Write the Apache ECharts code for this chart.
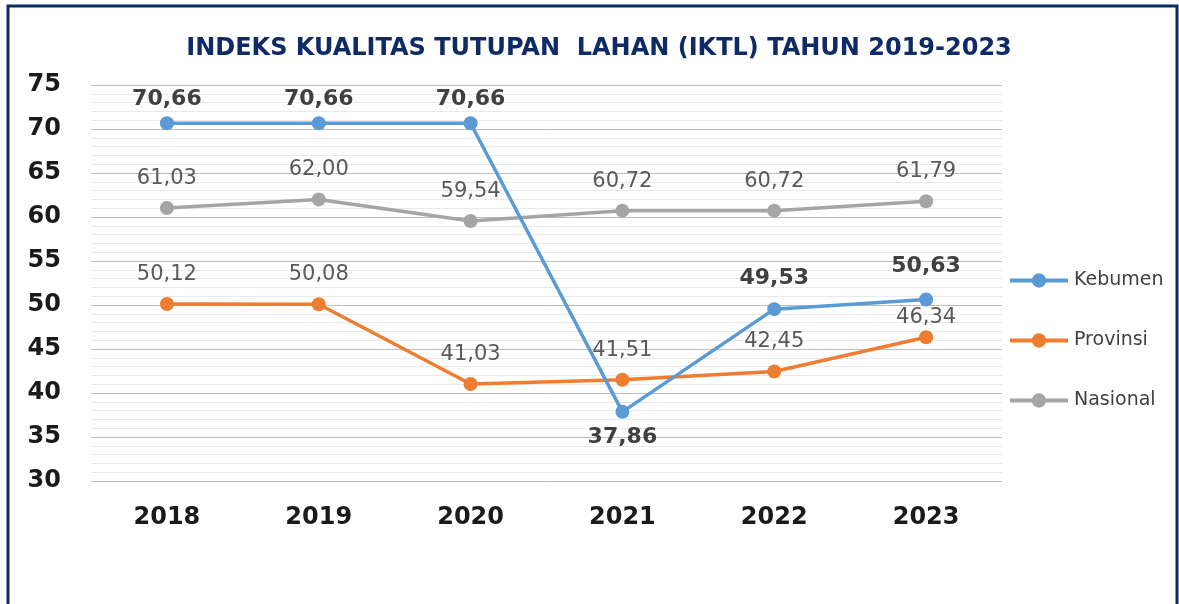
<!DOCTYPE html>
<html>
<head>
<meta charset="utf-8">
<script src="https://cdn.jsdelivr.net/npm/echarts@6/dist/echarts.min.js"></script>
<style>
html,body{margin:0;padding:0;background:#fff;}
#c{width:1179px;height:604px;}
</style>
</head>
<body>
<div id="c"></div>
<script>
var years = ['2018','2019','2020','2021','2022','2023'];
var kebumen = [70.66, 70.66, 70.66, 37.86, 49.53, 50.63];
var provinsi = [50.12, 50.08, 41.03, 41.51, 42.45, 46.34];
var nasional = [61.03, 62.00, 59.54, 60.72, 60.72, 61.79];
var seriesNames = ['Kebumen', 'Provinsi', 'Nasional'];
var titleText = 'INDEKS KUALITAS TUTUPAN  LAHAN (IKTL) TAHUN 2019-2023';

var FONT = '"DejaVu Sans", sans-serif';
function fmt(v){ return v.toFixed(2).replace('.', ','); }

function dataWithLabels(arr, overrides){
  return arr.map(function(v, i){
    var o = {value: v};
    if (overrides && overrides[i]) o.label = overrides[i];
    return o;
  });
}

var chart = echarts.init(document.getElementById('c'), null, {renderer:'canvas'});
chart.setOption({
  backgroundColor: '#ffffff',
  animation: false,
  title: {
    text: titleText,
    left: 594, top: 32,
    textAlign: 'center',
    textStyle: {fontFamily: FONT, fontSize: 24, fontWeight: 'bold', color: '#0e2b66'}
  },
  graphic: [{
    type: 'rect',
    shape: {x: 8, y: 6, width: 1169, height: 700},
    style: {fill: 'none', stroke: '#0b2a68', lineWidth: 3},
    silent: true
  }],
  legend: {
    orient: 'vertical',
    left: 1003, top: 266,
    itemWidth: 58, itemHeight: 18, itemGap: 41,
    data: seriesNames,
    lineStyle: {width: 4},
    textStyle: {fontFamily: FONT, fontSize: 19, color: '#404040', padding: [0,0,0,1]}
  },
  grid: {left: 91, right: 177, top: 85, bottom: 123, containLabel: false},
  xAxis: {
    type: 'category',
    data: years,
    boundaryGap: true,
    axisLine: {show: false},
    axisTick: {show: false},
    axisLabel: {fontFamily: FONT, fontSize: 24, fontWeight: 'bold', color: '#1a1a1a', margin: 25}
  },
  yAxis: {
    type: 'value',
    min: 30, max: 75, interval: 5,
    axisLine: {show: false},
    axisTick: {show: false},
    axisLabel: {fontFamily: FONT, fontSize: 24, fontWeight: 'bold', color: '#1a1a1a', margin: 30},
    splitLine: {show: true, lineStyle: {color: '#bdbdbd', width: 1}},
    minorTick: {show: false, splitNumber: 5},
    minorSplitLine: {show: true, lineStyle: {color: '#e9e9e9', width: 1}}
  },
  series: [
    {
      name: 'Kebumen', type: 'line', data: dataWithLabels(kebumen, {3: {position: 'bottom', distance: 7}, 4: {distance: 13}, 5: {distance: 15}}),
      color: '#5b9bd5', symbol: 'circle', symbolSize: 14,
      lineStyle: {width: 3.5, color: '#5b9bd5'},
      itemStyle: {color: '#5b9bd5'},
      label: {show: true, position: 'top', distance: 6, formatter: function(p){return fmt(p.value);},
        fontFamily: FONT, fontSize: 22, fontWeight: 'bold', color: '#404040'},
      z: 4
    },
    {
      name: 'Provinsi', type: 'line', data: dataWithLabels(provinsi, {5: {distance: 2}}),
      color: '#ed7d31', symbol: 'circle', symbolSize: 14,
      lineStyle: {width: 3.5, color: '#ed7d31'},
      itemStyle: {color: '#ed7d31'},
      label: {show: true, position: 'top', distance: 12, formatter: function(p){return fmt(p.value);},
        fontFamily: FONT, fontSize: 21, color: '#595959'},
      z: 3
    },
    {
      name: 'Nasional', type: 'line', data: dataWithLabels(nasional, {}),
      color: '#a5a5a5', symbol: 'circle', symbolSize: 14,
      lineStyle: {width: 3.5, color: '#a5a5a5'},
      itemStyle: {color: '#a5a5a5'},
      label: {show: true, position: 'top', distance: 12, formatter: function(p){return fmt(p.value);},
        fontFamily: FONT, fontSize: 21, color: '#595959'},
      z: 2
    }
  ]
});
</script>
</body>
</html>
